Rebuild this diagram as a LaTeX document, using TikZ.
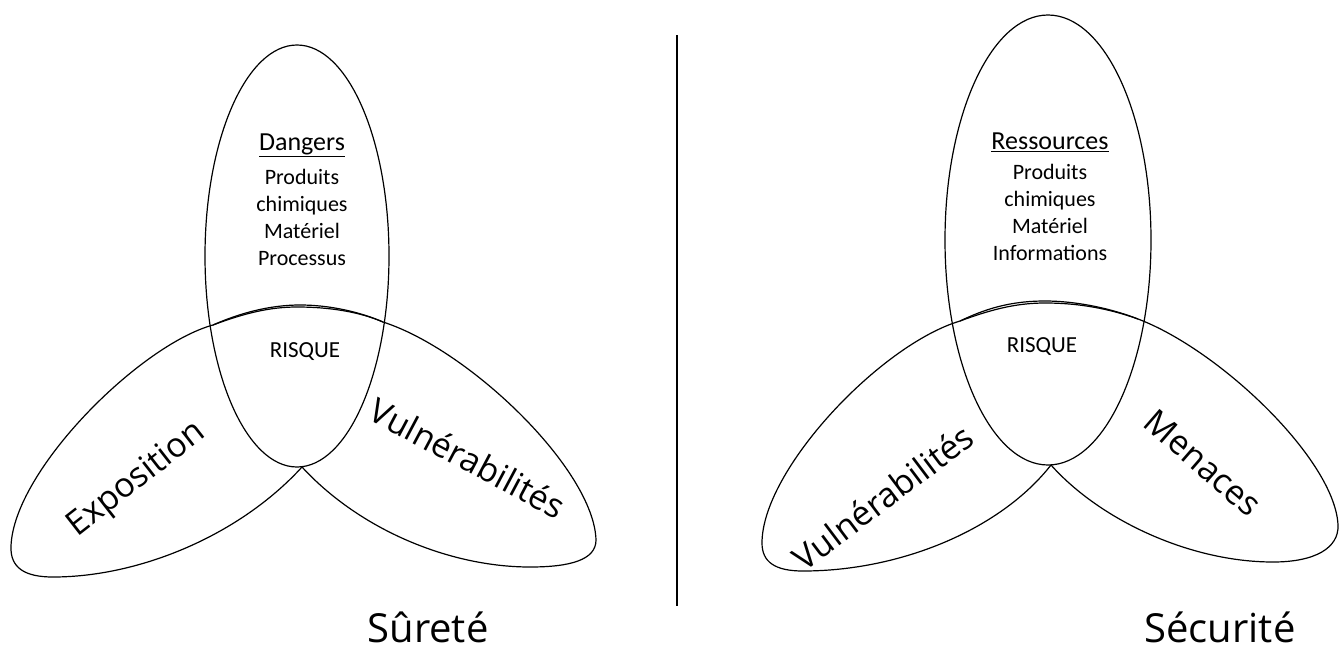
\documentclass[tikz,border=0pt]{standalone}
\usepackage{fontspec}
\setmainfont{Carlito}
\newfontfamily\opensans{Open Sans}
\usepackage{tikz}
\usetikzlibrary{positioning}

\begin{document}
\begin{tikzpicture}[
    x=1pt, y=-1pt,
    outline/.style={draw, line width=1.2pt, line join=round},
    bigword/.style={font=\opensans\fontsize{34}{38}\selectfont, inner sep=0pt},
    title/.style={font=\opensans\fontsize{40}{44}\selectfont, inner sep=0pt},
    heading/.style={font=\fontsize{26}{30}\selectfont, inner sep=0pt},
    itemlist/.style={font=\fontsize{22}{27}\selectfont, align=center, inner sep=0pt},
    risk/.style={font=\fontsize{23}{27}\selectfont, inner sep=0pt},
]
    \useasboundingbox (0,0) rectangle (1341,651);

    % --- Surete ---
    \draw[outline] (297,256) ellipse [x radius=92, y radius=211];
    \draw[outline] (302,467) .. controls (240,535) and (140,577) .. (53,577)
        .. controls (25,577) and (10,568) .. (11,546)
        .. controls (14,470) and (140,345) .. (213,325)
        .. controls (245,313) and (270,307) .. (297,307)
        .. controls (330,307) and (360,312) .. (383,322);
    \draw[outline] (302,467) .. controls (360,530) and (450,567) .. (530,567)
        .. controls (570,567) and (596,560) .. (596,540)
        .. controls (594,470) and (470,350) .. (383,322)
        .. controls (360,312) and (330,305) .. (300,305)
        .. controls (270,305) and (240,313) .. (213,325);

    \node[heading] (dangers) at (302,145) {\underline{Dangers}};
    \node[itemlist, below=12pt of dangers] (dangerslist) {Produits\\chimiques\\Matériel\\Processus};
    \node[risk] (risqueA) at (305,352) {RISQUE};
    \node[bigword, rotate=38] (exposition) at (137,480) {Exposition};
    \node[bigword, rotate=-28] (vulnA) at (468,458) {Vulnérabilités};
    \node[title] (surete) at (428,627) {Sûreté};

    % separation
    \coordinate (sepTop) at (677,35);
    \coordinate (sepBot) at (677,606);
    \draw[line width=2.8pt] (sepTop) -- (sepBot);

    % --- Securite ---
    \draw[outline] (1048,240) ellipse [x radius=103, y radius=225];
    \draw[outline] (1051,465) .. controls (1000,530) and (900,571) .. (803,571)
        .. controls (775,571) and (762,562) .. (762,543)
        .. controls (762,470) and (880,345) .. (960,321)
        .. controls (990,310) and (1015,303) .. (1045,303)
        .. controls (1080,303) and (1110,309) .. (1138,319);
    \draw[outline] (1051,465) .. controls (1100,520) and (1190,562) .. (1273,562)
        .. controls (1315,562) and (1339,548) .. (1338,525)
        .. controls (1335,460) and (1220,350) .. (1138,319)
        .. controls (1110,308) and (1075,301) .. (1045,301)
        .. controls (1010,301) and (985,309) .. (960,321);

    \node[heading] (ressources) at (1050,142) {\underline{Ressources}};
    \node[itemlist, below=12pt of ressources] (ressourceslist) {Produits\\chimiques\\Matériel\\Informations};
    \node[risk] (risqueB) at (1042,347) {RISQUE};
    \node[bigword, rotate=37] (vulnB) at (883,497) {Vulnérabilités};
    \node[bigword, rotate=-41] (menaces) at (1203,463) {Menaces};
    \node[title] (securite) at (1220,627) {Sécurité};
\end{tikzpicture}
\end{document}
